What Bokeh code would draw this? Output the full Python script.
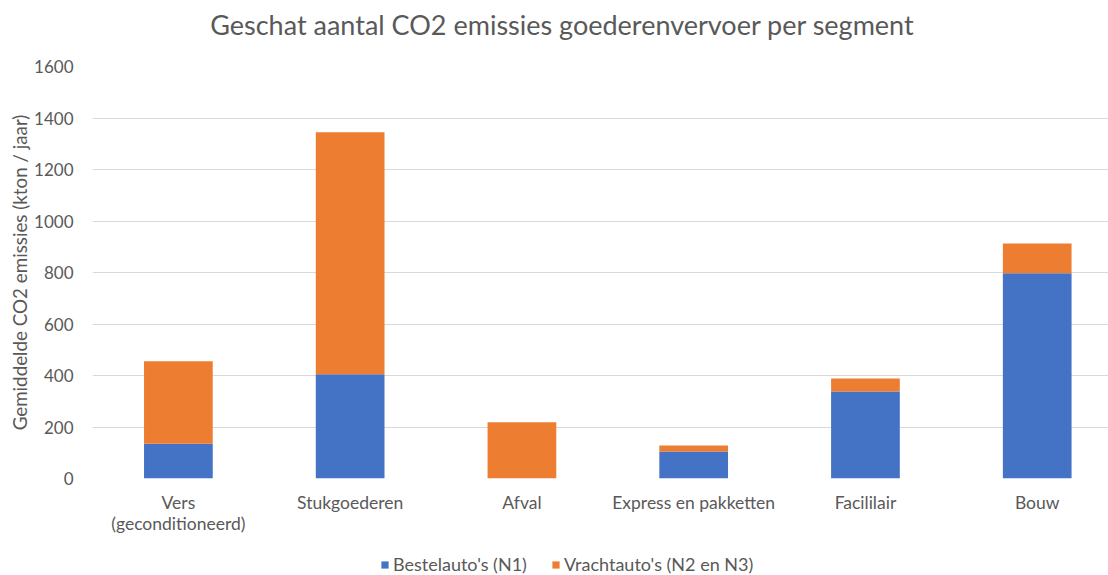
from bokeh.plotting import figure
from bokeh.layouts import column
from bokeh.models import Range1d, FixedTicker, Legend, LegendItem, ColumnDataSource, Label
from bokeh.embed import file_html
from bokeh.resources import INLINE

categories = ["Vers\n(geconditioneerd)", "Stukgoederen", "Afval",
              "Express en pakketten", "Facililair", "Bouw"]
bestel = [135, 405, 0, 105, 338, 797]
vracht = [320, 940, 218, 23, 50, 116]
series_names = ["Bestelauto's (N1)", "Vrachtauto's (N2 en N3)"]
y_ticks = [0, 200, 400, 600, 800, 1000, 1200, 1400, 1600]
title_text = "Geschat aantal CO2 emissies goederenvervoer per segment"

FONT = "Lato"
GREY = "#595959"
BLUE = "#4472C4"
ORANGE = "#ED7D31"

x = [i + 0.5 for i in range(len(categories))]
top1 = bestel
top2 = [a + b for a, b in zip(bestel, vracht)]
src = ColumnDataSource(dict(x=x, b0=[0] * len(x), t1=top1, t2=top2))

# ---- title strip ----
tf = figure(width=1108, height=45, output_backend="svg", toolbar_location=None,
            x_axis_location=None, y_axis_location=None,
            x_range=Range1d(0, 1), y_range=Range1d(0, 1), min_border=0)
tf.outline_line_color = None
tf.grid.grid_line_color = None
tf.add_layout(Label(x=470, y=21, x_units="screen", y_units="screen", text=title_text,
                    text_font=FONT, text_font_size="27px", text_color=GREY,
                    text_align="center", text_baseline="middle"))

# ---- main chart ----
p = figure(width=1108, height=493, output_backend="svg", toolbar_location=None,
           x_range=Range1d(0, 5.915), y_range=Range1d(0, 1600),
           min_border_left=92, min_border_right=0, min_border_top=21, min_border_bottom=60)
p.outline_line_color = None
p.background_fill_color = "white"
p.border_fill_color = "white"

p.vbar(x="x", bottom="b0", top="t1", width=0.4, source=src,
       fill_color=BLUE, line_color=None)
p.vbar(x="x", bottom="t1", top="t2", width=0.4, source=src,
       fill_color=ORANGE, line_color=None)

p.yaxis.ticker = FixedTicker(ticks=y_ticks)
p.yaxis.axis_line_color = None
p.yaxis.major_tick_line_color = None
p.yaxis.minor_tick_line_color = None
p.yaxis.major_label_text_font = FONT
p.yaxis.major_label_text_font_size = "17px"
p.yaxis.major_label_text_color = GREY
p.yaxis.major_label_standoff = 13
p.yaxis.axis_label = "Gemiddelde CO2 emissies (kton / jaar)"
p.yaxis.axis_label_text_font = FONT
p.yaxis.axis_label_text_font_size = "18.8px"
p.yaxis.axis_label_text_font_style = "normal"
p.yaxis.axis_label_text_color = GREY
p.yaxis.axis_label_standoff = 0

p.xaxis.ticker = FixedTicker(ticks=x)
p.xaxis.major_label_overrides = {xx: c for xx, c in zip(x, categories)}
p.xaxis.axis_line_color = None
p.xaxis.major_tick_line_color = None
p.xaxis.minor_tick_line_color = None
p.xaxis.major_label_text_font = FONT
p.xaxis.major_label_text_font_size = "17.5px"
p.xaxis.major_label_text_color = GREY
p.xaxis.major_label_text_line_height = 1.0
p.xaxis.major_label_standoff = 7

p.xgrid.grid_line_color = None
p.ygrid.ticker = FixedTicker(ticks=y_ticks)
p.ygrid.grid_line_color = "#D9D9D9"
p.ygrid.grid_line_width = 1

# ---- legend strip (series renderers kept out of its visible range; only the keys show) ----
lg = figure(width=1108, height=37, output_backend="svg", toolbar_location=None,
            x_axis_location=None, y_axis_location=None,
            x_range=Range1d(-30, -20), y_range=Range1d(-30, -20), min_border=0)
lg.outline_line_color = None
lg.grid.grid_line_color = None
k1 = lg.vbar(x="x", bottom="b0", top="t1", width=0.4, source=src,
             fill_color=BLUE, line_color=None)
k2 = lg.vbar(x="x", bottom="t1", top="t2", width=0.4, source=src,
             fill_color=ORANGE, line_color=None)
legend = Legend(items=[LegendItem(label=series_names[0], renderers=[k1]),
                       LegendItem(label=series_names[1], renderers=[k2])],
                orientation="horizontal", location=(288, 0),
                border_line_color=None, background_fill_alpha=0,
                label_text_font=FONT, label_text_font_size="18px",
                label_text_color=GREY, glyph_width=9, glyph_height=9,
                label_height=16, spacing=24, padding=0, margin=0, label_standoff=4)
lg.add_layout(legend)

layout = column(tf, p, lg, spacing=0)
open("out.html", "w").write(file_html(layout, INLINE))
